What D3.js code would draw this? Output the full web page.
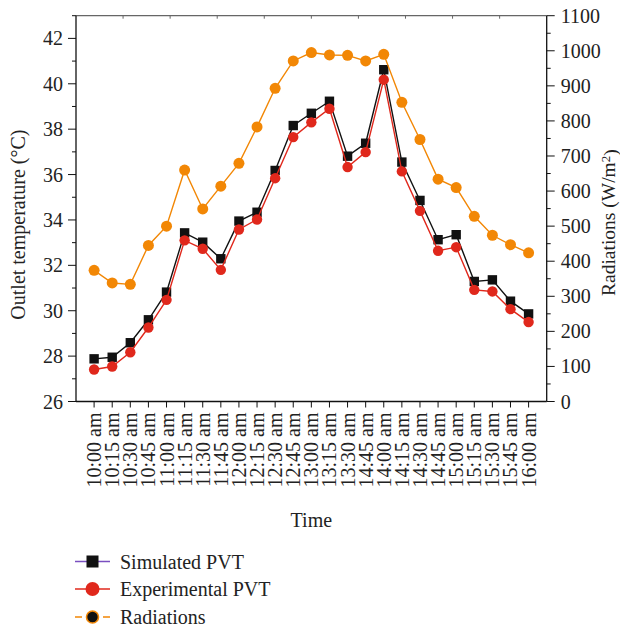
<!DOCTYPE html>
<html><head><meta charset="utf-8">
<script src="https://cdn.jsdelivr.net/npm/d3@7"></script>
<style>body{margin:0;background:#fff}svg{display:block}text{font-family:"Liberation Serif","Times New Roman",serif;fill:#222}</style>
</head><body><svg id="c" width="620" height="629"></svg>
<script>
const categories=["10:00 am","10:15 am","10:30 am","10:45 am","11:00 am","11:15 am","11:30 am","11:45 am","12:00 am","12:15 am","12:30 am","12:45 am","13:00 am","13:15 am","13:30 am","14:45 am","14:00 am","14:15 am","14:30 am","14:45 am","15:00 am","15:15 am","15:30 am","15:45 am","16:00 am"];
const simulated=[27.88,27.95,28.59,29.6,30.82,33.43,33.02,32.29,33.95,34.34,36.18,38.16,38.7,39.23,36.81,37.38,40.62,36.55,34.86,33.13,33.35,31.29,31.36,30.42,29.86];
const experimental=[27.41,27.54,28.17,29.26,30.48,33.1,32.73,31.8,33.58,34.02,35.84,37.65,38.3,38.9,36.33,36.99,40.18,36.14,34.4,32.64,32.8,30.92,30.85,30.07,29.5];
const radiations=[374,338,334,445,500,660,549,614,679,783,893,971,995,988,987,971,990,853,747,634,610,528,474,447,424];
const leftTicks=[26,28,30,32,34,36,38,40,42];
const rightTicks=[0,100,200,300,400,500,600,700,800,900,1000,1100];
const legendLabels=["Simulated PVT","Experimental PVT","Radiations"];

const svg=d3.select("#c");
const L=76,R=546.7,T=15.7,B=401.5;
const x=d3.scaleLinear().domain([-1,categories.length]).range([L,R]);
const yL=d3.scaleLinear().domain([26,43]).range([B,T]);
const yR=d3.scaleLinear().domain([0,1100]).range([B,T]);
const FS=20;

// top border with small gray ticks
svg.append("line").attr("x1",L).attr("x2",R).attr("y1",T).attr("y2",T).attr("stroke","#666").attr("stroke-width",1.3);
const topS=d3.scaleLinear().domain([0,10]).range([L,R]);
svg.append("g").selectAll("line").data(d3.range(1,10)).join("line")
 .attr("x1",d=>topS(d)).attr("x2",d=>topS(d)).attr("y1",T).attr("y2",T+3).attr("stroke","#666").attr("stroke-width",1);

// left axis
const gl=svg.append("g");
gl.append("line").attr("x1",L).attr("x2",L).attr("y1",T).attr("y2",B).attr("stroke","#111").attr("stroke-width",1.3);
gl.selectAll(".mn").data(d3.range(27,44,2)).join("line").attr("x1",L-4).attr("x2",L).attr("y1",d=>yL(d)).attr("y2",d=>yL(d)).attr("stroke","#111");
gl.selectAll(".mj").data(leftTicks).join("line").attr("x1",L-8).attr("x2",L).attr("y1",d=>yL(d)).attr("y2",d=>yL(d)).attr("stroke","#111");
gl.selectAll("text").data(leftTicks).join("text").attr("x",L-13).attr("y",d=>yL(d)).attr("dy","0.35em").attr("text-anchor","end").attr("font-size",FS).text(d=>d);

// right axis
const gr=svg.append("g");
gr.append("line").attr("x1",R).attr("x2",R).attr("y1",T).attr("y2",B).attr("stroke","#111").attr("stroke-width",1.3);
gr.selectAll(".mn").data(d3.range(50,1100,100)).join("line").attr("x1",R).attr("x2",R+4).attr("y1",d=>yR(d)).attr("y2",d=>yR(d)).attr("stroke","#111");
gr.selectAll(".mj").data(rightTicks).join("line").attr("x1",R).attr("x2",R+8).attr("y1",d=>yR(d)).attr("y2",d=>yR(d)).attr("stroke","#111");
gr.selectAll("text").data(rightTicks).join("text").attr("x",R+14).attr("y",d=>yR(d)).attr("dy","0.35em").attr("text-anchor","start").attr("font-size",FS).text(d=>d);

// bottom axis
const gb=svg.append("g");
gb.append("line").attr("x1",L).attr("x2",R).attr("y1",B).attr("y2",B).attr("stroke","#111").attr("stroke-width",1.3);
gb.selectAll("line.t").data(categories).join("line").attr("class","t").attr("x1",(d,i)=>x(i)).attr("x2",(d,i)=>x(i)).attr("y1",B).attr("y2",B+6).attr("stroke","#111");
gb.selectAll("text").data(categories).join("text")
 .attr("transform",(d,i)=>`translate(${x(i)},${B+11}) rotate(-90)`).attr("dy","0.35em").attr("text-anchor","end").attr("font-size",FS).text(d=>d);

// titles
svg.append("text").attr("x",(L+R)/2).attr("y",527).attr("text-anchor","middle").attr("font-size",FS).text("Time");
svg.append("text").attr("transform",`translate(18,${(T+B)/2+16}) rotate(-90)`).attr("dy","0.35em").attr("text-anchor","middle").attr("font-size",FS).text("Outlet temperature (°C)");
const rt=svg.append("text").attr("transform",`translate(608,${(T+B)/2+14}) rotate(-90)`).attr("dy","0.35em").attr("text-anchor","middle").attr("font-size",19.5);
rt.append("tspan").text("Radiations (W/m");
rt.append("tspan").attr("dy","-0.4em").attr("font-size",13).text("2");
rt.append("tspan").attr("dy","0.4em").text(")");

const cBlack="#111",cRed="#e0281c",cOrange="#f28705";
const lineL=d3.line().x((d,i)=>x(i)).y(d=>yL(d));
const lineR=d3.line().x((d,i)=>x(i)).y(d=>yR(d));

svg.append("path").datum(simulated).attr("d",lineL).attr("fill","none").attr("stroke",cBlack).attr("stroke-width",1.4);
svg.append("g").selectAll("rect").data(simulated).join("rect").attr("x",(d,i)=>x(i)-4.7).attr("y",d=>yL(d)-4.7).attr("width",9.4).attr("height",9.4).attr("fill",cBlack);
svg.append("path").datum(experimental).attr("d",lineL).attr("fill","none").attr("stroke",cRed).attr("stroke-width",1.4);
svg.append("g").selectAll("circle").data(experimental).join("circle").attr("cx",(d,i)=>x(i)).attr("cy",d=>yL(d)).attr("r",5.2).attr("fill",cRed);
svg.append("path").datum(radiations).attr("d",lineR).attr("fill","none").attr("stroke",cOrange).attr("stroke-width",1.4);
svg.append("g").selectAll("circle").data(radiations).join("circle").attr("cx",(d,i)=>x(i)).attr("cy",d=>yR(d)).attr("r",5.5).attr("fill",cOrange);

// legend
const ly=[561.5,589,617];
const lg=svg.append("g");
lg.append("line").attr("x1",75).attr("x2",110).attr("y1",ly[0]).attr("y2",ly[0]).attr("stroke","#7a4fc0").attr("stroke-width",1.5);
lg.append("rect").attr("x",92.5-6).attr("y",ly[0]-6).attr("width",12).attr("height",12).attr("fill",cBlack);
lg.append("line").attr("x1",75).attr("x2",110).attr("y1",ly[1]).attr("y2",ly[1]).attr("stroke",cRed).attr("stroke-width",1.5);
lg.append("circle").attr("cx",92.5).attr("cy",ly[1]).attr("r",7).attr("fill",cRed);
lg.append("line").attr("x1",75).attr("x2",110).attr("y1",ly[2]).attr("y2",ly[2]).attr("stroke",cOrange).attr("stroke-width",1.5).attr("stroke-dasharray","7,21");
lg.append("circle").attr("cx",92.5).attr("cy",ly[2]).attr("r",6).attr("fill",cBlack).attr("stroke",cOrange).attr("stroke-width",1.6);
lg.selectAll("text").data(legendLabels).join("text").attr("x",120).attr("y",(d,i)=>ly[i]).attr("dy","0.35em").attr("font-size",FS).text(d=>d);
</script></body></html>
